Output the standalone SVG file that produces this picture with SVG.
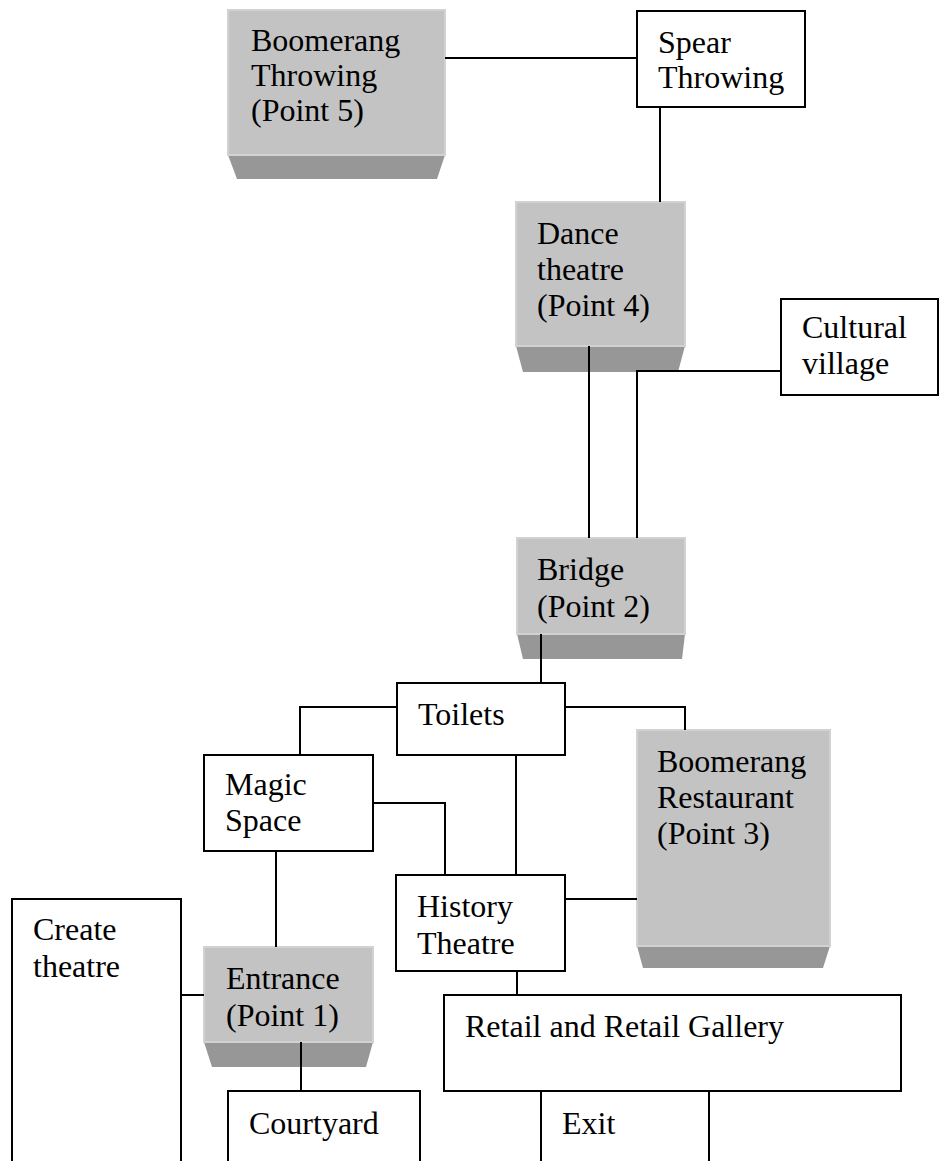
<svg xmlns="http://www.w3.org/2000/svg" width="939" height="1161" viewBox="0 0 939 1161">
  <style>
    .box { fill: #ffffff; stroke: #000000; stroke-width: 2; }
    .face { fill: #c3c3c3; stroke: #d2d2d2; stroke-width: 2; }
    .base { fill: #979797; }
    .wire { fill: none; stroke: #000000; stroke-width: 2; }
    text { font-family: "Liberation Serif", "Times New Roman", serif; font-size: 32px; fill: #000000; }
  </style>

  <rect x="0" y="0" width="939" height="1161" fill="#ffffff"/>

  <!-- raised (bevelled) stops -->
  <g id="boomerang-throwing">
    <polygon class="base" points="228,155 445,155 437,179 237,179"/>
    <rect class="face" x="228" y="10" width="217" height="145"/>
    <text x="251" y="51">Boomerang</text>
    <text x="251" y="86">Throwing</text>
    <text x="251" y="121">(Point 5)</text>
  </g>

  <g id="spear-throwing">
    <rect class="box" x="637" y="11" width="168" height="96"/>
    <text x="658" y="53">Spear</text>
    <text x="658" y="88">Throwing</text>
  </g>

  <g id="dance-theatre">
    <polygon class="base" points="516,346 685,346 678,372 523,372"/>
    <rect class="face" x="516" y="202" width="169" height="144"/>
    <text x="537" y="244">Dance</text>
    <text x="537" y="280">theatre</text>
    <text x="537" y="316">(Point 4)</text>
  </g>

  <g id="cultural-village">
    <rect class="box" x="781" y="299" width="157" height="96"/>
    <text x="802" y="338">Cultural</text>
    <text x="802" y="374">village</text>
  </g>

  <g id="bridge">
    <polygon class="base" points="517,634 685,634 682,659 523,659"/>
    <rect class="face" x="517" y="538" width="168" height="96"/>
    <text x="537" y="580">Bridge</text>
    <text x="537" y="617">(Point 2)</text>
  </g>

  <g id="toilets">
    <rect class="box" x="397" y="683" width="168" height="72"/>
    <text x="418" y="725">Toilets</text>
  </g>

  <g id="boomerang-restaurant">
    <polygon class="base" points="637,946 830,946 823,968 643,968"/>
    <rect class="face" x="637" y="730" width="193" height="216"/>
    <text x="657" y="772">Boomerang</text>
    <text x="657" y="808">Restaurant</text>
    <text x="657" y="844">(Point 3)</text>
  </g>

  <g id="magic-space">
    <rect class="box" x="204" y="755" width="169" height="96"/>
    <text x="225" y="795">Magic</text>
    <text x="225" y="831">Space</text>
  </g>

  <g id="history-theatre">
    <rect class="box" x="396" y="875" width="169" height="96"/>
    <text x="417" y="917">History</text>
    <text x="417" y="954">Theatre</text>
  </g>

  <g id="create-theatre">
    <rect class="box" x="12" y="899" width="169" height="280"/>
    <text x="33" y="940">Create</text>
    <text x="33" y="977">theatre</text>
  </g>

  <g id="entrance">
    <polygon class="base" points="204,1042 373,1042 366,1067 212,1067"/>
    <rect class="face" x="204" y="947" width="169" height="95"/>
    <text x="226" y="989">Entrance</text>
    <text x="226" y="1026">(Point 1)</text>
  </g>

  <g id="retail-gallery">
    <rect class="box" x="444" y="995" width="457" height="96"/>
    <text x="465" y="1037">Retail and Retail Gallery</text>
  </g>

  <g id="courtyard">
    <rect class="box" x="228" y="1091" width="192" height="90"/>
    <text x="249" y="1134">Courtyard</text>
  </g>

  <g id="exit">
    <rect class="box" x="541" y="1091" width="168" height="90"/>
    <text x="562" y="1134">Exit</text>
  </g>

  <!-- paths between stops -->
  <g id="connectors">
    <path class="wire" d="M445,58 H637"/>
    <path class="wire" d="M660,107 V202"/>
    <path class="wire" d="M589,346 V538"/>
    <path class="wire" d="M781,371 H637 V538"/>
    <path class="wire" d="M541,634 V683"/>
    <path class="wire" d="M397,707 H300 V755"/>
    <path class="wire" d="M565,707 H685 V730"/>
    <path class="wire" d="M373,803 H445 V875"/>
    <path class="wire" d="M516,755 V875"/>
    <path class="wire" d="M565,899 H637"/>
    <path class="wire" d="M517,971 V995"/>
    <path class="wire" d="M276,851 V947"/>
    <path class="wire" d="M181,995 H204"/>
    <path class="wire" d="M301,1042 V1091"/>
  </g>
</svg>
